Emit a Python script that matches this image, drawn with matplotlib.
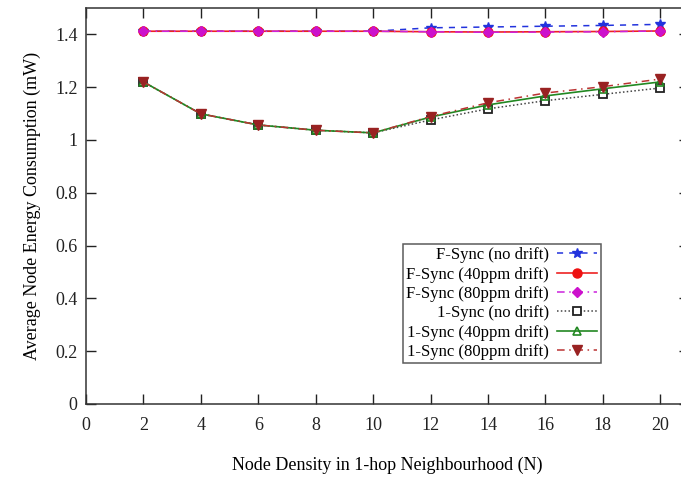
import matplotlib
matplotlib.use("Agg")
import matplotlib.pyplot as plt
from matplotlib.ticker import FuncFormatter

plt.rcParams['font.family'] = ['Liberation Serif', 'DejaVu Serif']

node_density = [2, 4, 6, 8, 10, 12, 14, 16, 18, 20]

fsync_no_drift = [1.412, 1.412, 1.412, 1.412, 1.412, 1.425, 1.428, 1.431, 1.434, 1.438]
fsync_40ppm = [1.412, 1.412, 1.412, 1.412, 1.412, 1.410, 1.409, 1.410, 1.411, 1.413]
fsync_80ppm = [1.412, 1.412, 1.412, 1.412, 1.412, 1.410, 1.408, 1.409, 1.410, 1.413]
onesync_no_drift = [1.220, 1.099, 1.057, 1.037, 1.027, 1.076, 1.118, 1.149, 1.173, 1.197]
onesync_40ppm = [1.220, 1.099, 1.057, 1.037, 1.027, 1.087, 1.133, 1.167, 1.194, 1.220]
onesync_80ppm = [1.220, 1.099, 1.057, 1.037, 1.027, 1.089, 1.141, 1.178, 1.202, 1.231]

labels = ["F-Sync (no drift)", "F-Sync (40ppm drift)", "F-Sync (80ppm drift)",
          "1-Sync (no drift)", "1-Sync (40ppm drift)", "1-Sync (80ppm drift)"]

x_ticks = [0, 2, 4, 6, 8, 10, 12, 14, 16, 18, 20]
y_ticks = [0, 0.2, 0.4, 0.6, 0.8, 1.0, 1.2, 1.4]

W, H = 681, 478
fig = plt.figure(figsize=(W / 100, H / 100), dpi=100)
left, right, top, bottom = 86, 689, 8, 404
ax = fig.add_axes([left / W, 1 - bottom / H, (right - left) / W, (bottom - top) / H])

ax.plot(node_density, fsync_no_drift, color='#2233dd', ls=(0, (4, 4)), lw=1.1,
        marker='*', ms=7.5, mfc='#2233dd', mec='#2233dd', label=labels[0], zorder=3)
ax.plot(node_density, fsync_40ppm, color='#ee2222', ls='-', lw=1.2,
        marker='o', ms=6.5, mfc='#ee1111', mec='#ee1111', label=labels[1], zorder=4)
ax.plot(node_density, fsync_80ppm, color='#cc22dd', ls=(0, (5, 3, 1, 3)), lw=1.1,
        marker='D', ms=5.5, mfc='#cc11cc', mec='#cc11cc', label=labels[2], zorder=5)
ax.plot(node_density, onesync_no_drift, color='#444444', ls=(0, (1, 1.5)), lw=1.1,
        marker='s', ms=6, mfc='white', mec='#222222', mew=1.3, label=labels[3], zorder=3)
ax.plot(node_density, onesync_40ppm, color='#228822', ls='-', lw=1.2,
        marker='^', ms=6, mfc='none', mec='#228822', mew=1.2, label=labels[4], zorder=4)
ax.plot(node_density, onesync_80ppm, color='#bb3333', ls=(0, (5, 3, 1, 3)), lw=1.1,
        marker='v', ms=6.5, mfc='#992222', mec='#992222', label=labels[5], zorder=5)

ax.set_xlim(0, 21)
ax.set_ylim(0, 1.5)
ax.set_xticks(x_ticks)
ax.set_yticks(y_ticks)
ax.yaxis.set_major_formatter(FuncFormatter(lambda v, p: f"{v:g}"))
ax.tick_params(direction='in', length=7, width=1, top=True, right=True,
               labelsize=13, pad=9, colors='#222222')
ax.tick_params(axis='y', pad=6)
for s in ax.spines.values():
    s.set_color('#333333')
    s.set_linewidth(1.1)

ax.set_xlabel("Node Density in 1-hop Neighbourhood (N)", fontsize=13, labelpad=17)
ax.set_ylabel("Average Node Energy Consumption (mW)", fontsize=13, labelpad=10)

leg = ax.legend(loc='upper left',
                bbox_to_anchor=((403 - left) / (right - left), 1 - (244 - top) / (bottom - top)),
                markerfirst=False, fontsize=12, frameon=True, fancybox=False,
                edgecolor='#333333', borderpad=0.2, labelspacing=0.2,
                handlelength=2.4, handletextpad=0.5, borderaxespad=0)
leg.get_frame().set_linewidth(1.1)
for t in leg.get_texts():
    t.set_ha('right')
leg._legend_box.align = 'right'

fig.savefig("out.png", dpi=100)
